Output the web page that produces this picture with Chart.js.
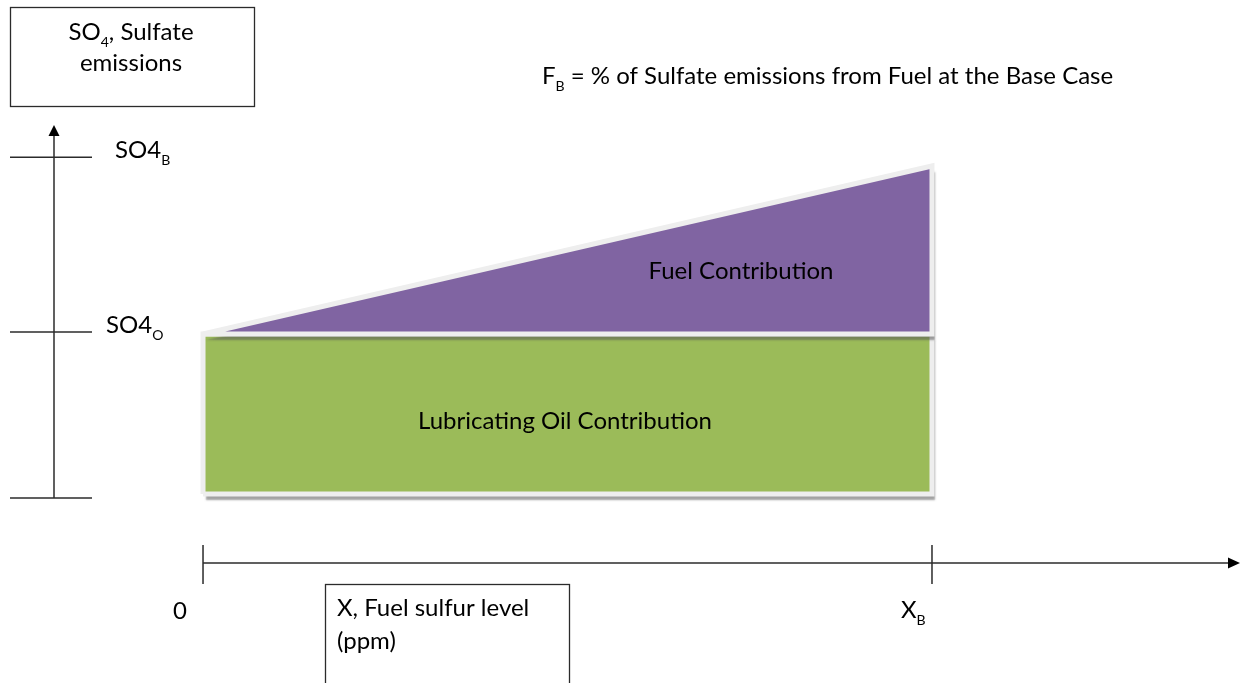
<!DOCTYPE html>
<html>
<head>
<meta charset="utf-8">
<script src="https://cdn.jsdelivr.net/npm/chart.js@4.4.1/dist/chart.umd.min.js"></script>
<style>
  html, body { margin: 0; padding: 0; background: #ffffff; }
  #wrap { width: 1241px; height: 683px; }
</style>
</head>
<body>
<div id="wrap"><canvas id="sulfateChart" width="1241" height="683"></canvas></div>
<script>
// fuel sulfur level, 0 and the base case X_B (arbitrary units)
const fuelLevels = [0, 100];
const fuelTickLabels = ['0', 'X_B'];
// sulfate emissions: lube oil part is flat, fuel part rises to the base case
const lubeOil = [1, 1];
const baseTotal = [1, 2.05];
// ticks on the emissions axis
const so4Ticks = [-0.025, 1.0125, 2.105];
const so4TickLabels = ['', 'SO4_O', 'SO4_B'];

const FONT = 'Lato, "Open Sans", sans-serif';

// green block: closed outline from origin up to the lube oil level
const lubeShape = [
    {x: fuelLevels[0], y: 0},
    {x: fuelLevels[0], y: lubeOil[0]},
    {x: fuelLevels[1], y: lubeOil[1]},
    {x: fuelLevels[1], y: 0},
    {x: fuelLevels[0], y: 0}
];
// purple wedge between lube oil level and total
const fuelShape = [
    {x: fuelLevels[0], y: baseTotal[0]},
    {x: fuelLevels[1], y: baseTotal[1]},
    {x: fuelLevels[1], y: lubeOil[1]},
    {x: fuelLevels[0], y: lubeOil[0]}
];

function drawParts(ctx, parts, x, y, size, align) {
    const subSize = Math.round(size * 0.6);
    let total = 0;
    parts.forEach(p => {
        ctx.font = (p.sub ? subSize : size) + 'px ' + FONT;
        p.w = ctx.measureText(p.t).width;
        total += p.w;
    });
    let cx = align === 'center' ? x - total / 2 : x;
    parts.forEach(p => {
        ctx.font = (p.sub ? subSize : size) + 'px ' + FONT;
        ctx.fillText(p.t, cx, p.sub ? y + size * 0.3 : y);
        cx += p.w;
    });
}

function splitSub(label) {
    const i = label.indexOf('_');
    if (i < 0) return [{t: label}];
    return [{t: label.slice(0, i)}, {t: label.slice(i + 1), sub: true}];
}

function setShadow(ctx, on) {
    ctx.shadowColor = on ? 'rgba(85, 85, 85, 0.55)' : 'rgba(0,0,0,0)';
    ctx.shadowBlur = on ? 2 : 0;
    ctx.shadowOffsetX = on ? 3 : 0;
    ctx.shadowOffsetY = on ? 6 : 0;
}

// shadow only under the fills (filler draws them just before this plugin's per-dataset hook)
const shadowPlugin = {
    id: 'shadow',
    beforeDatasetsDraw(chart) { setShadow(chart.ctx, true); },
    beforeDatasetDraw(chart) { setShadow(chart.ctx, false); },
    afterDatasetDraw(chart) { setShadow(chart.ctx, true); },
    afterDatasetsDraw(chart) { setShadow(chart.ctx, false); }
};

const diagramPlugin = {
    id: 'diagram',
    afterDraw(chart) {
        const ctx = chart.ctx;
        const xs = chart.scales.x;
        const ys = chart.scales.y;
        ctx.save();
        ctx.strokeStyle = '#2b2b2b';
        ctx.fillStyle = '#000000';
        ctx.lineWidth = 1.5;

        // vertical emissions axis
        const ax = 54;
        ctx.beginPath();
        ctx.moveTo(ax, 498);
        ctx.lineTo(ax, 134);
        ctx.stroke();
        ctx.beginPath();
        ctx.moveTo(ax, 125);
        ctx.lineTo(ax - 5.5, 136);
        ctx.lineTo(ax + 5.5, 136);
        ctx.closePath();
        ctx.fill();
        so4Ticks.forEach((v, i) => {
            const py = ys.getPixelForValue(v);
            ctx.beginPath();
            ctx.moveTo(10, py);
            ctx.lineTo(92, py);
            ctx.stroke();
            if (so4TickLabels[i]) {
                const lx = i === 2 ? 115 : 106;
                drawParts(ctx, splitSub(so4TickLabels[i]), lx, py + 1, 24, 'left');
            }
        });

        // horizontal fuel sulfur axis
        const ay = 563;
        ctx.beginPath();
        ctx.moveTo(xs.getPixelForValue(fuelLevels[0]), ay);
        ctx.lineTo(1229, ay);
        ctx.stroke();
        ctx.beginPath();
        ctx.moveTo(1240, ay);
        ctx.lineTo(1228, ay - 5.5);
        ctx.lineTo(1228, ay + 5.5);
        ctx.closePath();
        ctx.fill();
        fuelLevels.forEach((v, i) => {
            const px = xs.getPixelForValue(v);
            ctx.beginPath();
            ctx.moveTo(px, 545);
            ctx.lineTo(px, 584);
            ctx.stroke();
            if (i === 0) {
                drawParts(ctx, splitSub(fuelTickLabels[i]), px - 23, 619, 24, 'center');
            } else {
                drawParts(ctx, splitSub(fuelTickLabels[i]), px - 31, 618, 24, 'left');
            }
        });

        // axis title boxes
        ctx.lineWidth = 1.3;
        ctx.strokeRect(10.5, 7.5, 244, 99);
        ctx.strokeRect(325.5, 584.5, 244, 140);

        drawParts(ctx, [{t: 'SO'}, {t: '4', sub: true}, {t: ', Sulfate'}], 131, 40, 24, 'center');
        drawParts(ctx, [{t: 'emissions'}], 131, 71, 24, 'center');
        drawParts(ctx, [{t: 'X, Fuel sulfur level'}], 337, 616, 24, 'left');
        drawParts(ctx, [{t: '(ppm)'}], 337, 649, 24, 'left');

        drawParts(ctx, [{t: 'F'}, {t: 'B', sub: true}, {t: ' = % of Sulfate emissions from Fuel at the Base Case'}], 542, 84, 24, 'left');

        // labels inside the shapes
        drawParts(ctx, [{t: 'Fuel Contribution'}], 741, 279, 24, 'center');
        drawParts(ctx, [{t: 'Lubricating Oil Contribution'}], 565, 429, 24, 'center');
        ctx.restore();
    }
};

// scale limits so the diagram sits where it does in the figure
const xMin = -27.85, xMax = 142.39;
const yMin = -1.18125, yMax = 3.0875;

new Chart(document.getElementById('sulfateChart'), {
    type: 'scatter',
    data: {
        datasets: [
            {
                label: 'Fuel Contribution',
                data: fuelShape,
                showLine: true,
                fill: 'shape',
                backgroundColor: '#8064a2',
                borderColor: '#eeeeee',
                borderWidth: 5,
                borderJoinStyle: 'miter',
                pointRadius: 0,
                tension: 0
            },
            {
                label: 'Lubricating Oil Contribution',
                data: lubeShape,
                showLine: true,
                fill: 'shape',
                backgroundColor: '#9bbb59',
                borderColor: '#eeeeee',
                borderWidth: 5,
                borderJoinStyle: 'miter',
                pointRadius: 0,
                tension: 0
            }
        ]
    },
    options: {
        responsive: false,
        animation: false,
        devicePixelRatio: 1,
        layout: { padding: 0 },
        scales: {
            x: { type: 'linear', min: xMin, max: xMax, display: false },
            y: { type: 'linear', min: yMin, max: yMax, display: false }
        },
        plugins: {
            legend: { display: false },
            tooltip: { enabled: false }
        }
    },
    plugins: [shadowPlugin, diagramPlugin]
});
</script>
</body>
</html>
